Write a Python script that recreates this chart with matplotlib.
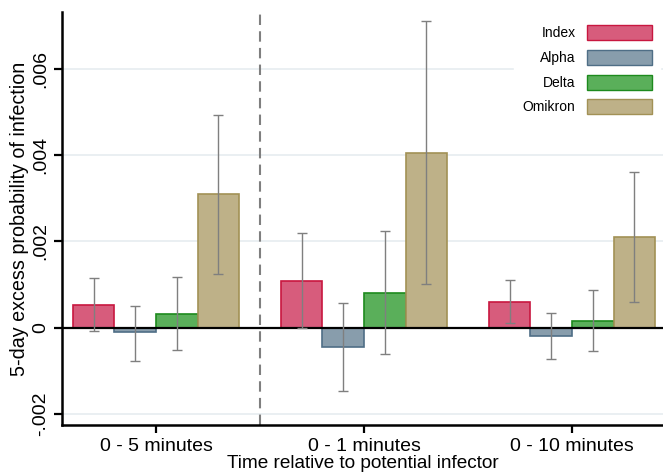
import numpy as np
import matplotlib.pyplot as plt
from matplotlib.patches import Patch

plt.rcParams['font.family'] = ['Liberation Sans', 'DejaVu Sans']

# Data
groups = ['0 - 5 minutes', '0 - 1 minutes', '0 - 10 minutes']
variants = ['Index', 'Alpha', 'Delta', 'Omikron']
est = {
    'Index':   [0.00053, 0.00108, 0.00060],
    'Alpha':   [-0.00011, -0.00045, -0.00019],
    'Delta':   [0.00032, 0.00080, 0.00015],
    'Omikron': [0.00309, 0.00405, 0.00209],
}
lo = {
    'Index':   [-0.00009, -0.00002, 0.00011],
    'Alpha':   [-0.00077, -0.00148, -0.00074],
    'Delta':   [-0.00052, -0.00061, -0.00055],
    'Omikron': [0.00125, 0.00101, 0.00060],
}
hi = {
    'Index':   [0.00114, 0.00219, 0.00111],
    'Alpha':   [0.00050, 0.00056, 0.00033],
    'Delta':   [0.00118, 0.00225, 0.00086],
    'Omikron': [0.00494, 0.00712, 0.00361],
}
yticks = [-0.002, 0, 0.002, 0.004, 0.006]
ytick_labels = ['-.002', '0', '.002', '.004', '.006']

fills = {'Index': '#d75c7c', 'Alpha': '#889dac', 'Delta': '#5aaf5a', 'Omikron': '#beb188'}
edges = {'Index': '#c8173f', 'Alpha': '#4f6e86', 'Delta': '#1d8a1d', 'Omikron': '#a29155'}

fig = plt.figure(figsize=(6.63, 4.74), dpi=100)
ax = fig.add_axes([62/663, 1-425/474, 1-62/663, (425-12)/474])

x = np.arange(len(groups))
w = 0.2
offsets = [-0.3, -0.1, 0.1, 0.3]
for v, off in zip(variants, offsets):
    e = np.array(est[v])
    ax.bar(x + off, e, width=w, color=fills[v], edgecolor=edges[v], linewidth=1.2, zorder=2)
    yerr = np.array([e - np.array(lo[v]), np.array(hi[v]) - e])
    ax.errorbar(x + off, e, yerr=yerr, fmt='none', ecolor='#7f7f7f', elinewidth=1,
                capsize=3.5, capthick=1, zorder=4)

ax.axhline(0, color='black', linewidth=1.6, zorder=3)
ax.axvline(0.5, color='#7f7f7f', linestyle=(0, (5, 3)), linewidth=1.5, zorder=1)

ax.set_xlim(-0.452, 2.4375)
ax.set_ylim(-0.00226, 0.00732)
ax.set_yticks(yticks)
ax.set_yticklabels(ytick_labels, rotation=90, va='center', fontsize=14)
ax.set_xticks(x)
ax.set_xticklabels(groups, fontsize=14)
for yt in yticks:
    if yt != 0:
        ax.axhline(yt, color='#e8eef1', linewidth=1.3, zorder=0)

for s in ['top', 'right']:
    ax.spines[s].set_visible(False)
for s in ['left', 'bottom']:
    ax.spines[s].set_linewidth(1.8)
ax.tick_params(axis='both', length=6, width=1.6, color='black', direction='out')
ax.tick_params(axis='y', pad=3)

ax.set_ylabel('5-day excess probability of infection', fontsize=14.2)
ax.yaxis.set_label_coords(-0.055, 0.5)
ax.set_xlabel('Time relative to potential infector', fontsize=13.7, labelpad=0)

handles = [Patch(facecolor=fills[v], edgecolor=edges[v], linewidth=1.0, label=v) for v in variants]
leg = ax.legend(handles=handles, loc='upper right', bbox_to_anchor=(1.0, 0.995), fontsize=10,
                frameon=True, facecolor='white', edgecolor='white', framealpha=1,
                markerfirst=False, handlelength=4.7, handleheight=1.3, labelspacing=0.68,
                handletextpad=0.8, borderpad=0.6, borderaxespad=0.2, fancybox=False)
for t in leg.get_texts():
    t.set_ha('right')
leg.set_zorder(5)

plt.savefig('out.png', dpi=100)
